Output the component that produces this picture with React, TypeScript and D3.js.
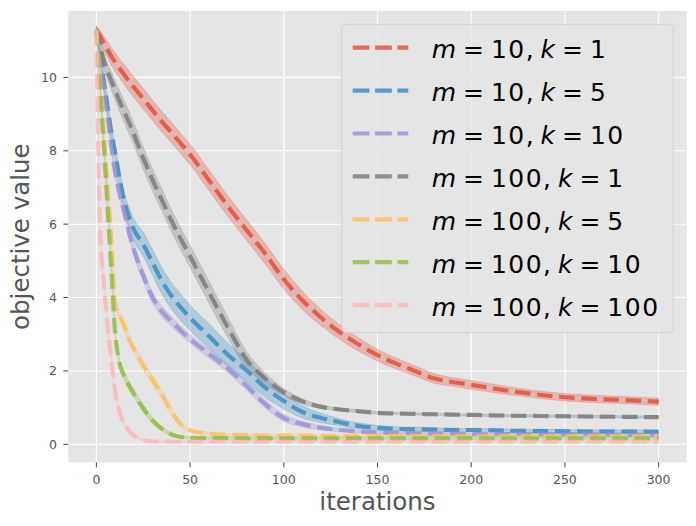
import React from "react";
import * as d3 from "d3";

const iterations = [0, 2, 4, 6, 8, 10, 12, 15, 18, 20, 25, 30, 35, 40, 45, 50, 60, 70, 80, 90, 100, 110, 120, 130, 140, 150, 160, 170, 180, 190, 200, 220, 240, 260, 280, 300];

const m10k1 = [11.3, 11.12, 10.93, 10.75, 10.57, 10.42, 10.27, 10.06, 9.86, 9.73, 9.42, 9.1, 8.79, 8.5, 8.2, 7.9, 7.2, 6.5, 5.85, 5.2, 4.5, 3.92, 3.45, 3.05, 2.72, 2.43, 2.2, 2.0, 1.8, 1.7, 1.62, 1.46, 1.33, 1.25, 1.21, 1.16];
const m10k1Std = [0.1, 0.15, 0.2, 0.22, 0.24, 0.25, 0.26, 0.27, 0.28, 0.28, 0.28, 0.28, 0.28, 0.28, 0.28, 0.28, 0.28, 0.28, 0.28, 0.28, 0.27, 0.25, 0.22, 0.2, 0.18, 0.16, 0.15, 0.14, 0.13, 0.12, 0.12, 0.11, 0.1, 0.1, 0.1, 0.1];

const m10k5 = [11.3, 10.6, 9.9, 9.2, 8.5, 7.95, 7.35, 6.6, 6.1, 5.85, 5.45, 4.95, 4.45, 4.05, 3.73, 3.45, 2.95, 2.45, 2.02, 1.55, 1.18, 0.88, 0.72, 0.6, 0.5, 0.45, 0.42, 0.41, 0.4, 0.39, 0.39, 0.37, 0.36, 0.35, 0.35, 0.34];
const m10k5Std = [0.1, 0.15, 0.2, 0.2, 0.2, 0.2, 0.22, 0.25, 0.28, 0.3, 0.33, 0.35, 0.36, 0.36, 0.36, 0.35, 0.34, 0.32, 0.3, 0.27, 0.22, 0.17, 0.13, 0.1, 0.08, 0.07, 0.06, 0.06, 0.05, 0.05, 0.05, 0.05, 0.05, 0.05, 0.05, 0.05];

const m10k10 = [11.3, 10.5, 9.7, 8.9, 8.1, 7.4, 6.9, 6.3, 5.65, 5.3, 4.6, 4.0, 3.62, 3.35, 3.1, 2.87, 2.47, 2.07, 1.6, 1.1, 0.72, 0.55, 0.45, 0.39, 0.35, 0.32, 0.31, 0.3, 0.29, 0.29, 0.28, 0.28, 0.27, 0.27, 0.26, 0.26];
const m10k10Std = [0.1, 0.12, 0.14, 0.15, 0.15, 0.15, 0.15, 0.16, 0.17, 0.17, 0.17, 0.16, 0.15, 0.14, 0.13, 0.12, 0.12, 0.12, 0.12, 0.11, 0.1, 0.08, 0.06, 0.05, 0.04, 0.04, 0.03, 0.03, 0.03, 0.03, 0.03, 0.03, 0.03, 0.03, 0.03, 0.03];

const m100k1 = [11.3, 10.85, 10.45, 10.15, 9.9, 9.65, 9.4, 9.05, 8.7, 8.45, 7.8, 7.2, 6.65, 6.1, 5.6, 5.12, 4.15, 3.2, 2.32, 1.8, 1.42, 1.17, 1.02, 0.95, 0.9, 0.86, 0.84, 0.83, 0.82, 0.81, 0.8, 0.78, 0.77, 0.76, 0.75, 0.74];
const m100k1Std = [0.1, 0.15, 0.2, 0.22, 0.25, 0.27, 0.28, 0.3, 0.3, 0.3, 0.3, 0.3, 0.3, 0.3, 0.3, 0.3, 0.3, 0.28, 0.22, 0.15, 0.1, 0.07, 0.05, 0.04, 0.04, 0.03, 0.03, 0.03, 0.03, 0.03, 0.03, 0.03, 0.03, 0.03, 0.03, 0.03];

const m100k5 = [11.3, 9.9, 8.4, 7.0, 5.6, 3.85, 3.55, 3.2, 2.8, 2.6, 2.15, 1.75, 1.35, 0.9, 0.55, 0.38, 0.29, 0.26, 0.25, 0.24, 0.24, 0.24, 0.23, 0.23, 0.23, 0.23, 0.23, 0.23, 0.23, 0.22, 0.22, 0.22, 0.22, 0.22, 0.22, 0.22];
const m100k5Std = [0.1, 0.15, 0.15, 0.15, 0.15, 0.15, 0.12, 0.12, 0.12, 0.12, 0.12, 0.12, 0.12, 0.1, 0.08, 0.05, 0.04, 0.03, 0.03, 0.03, 0.03, 0.03, 0.03, 0.03, 0.03, 0.03, 0.03, 0.03, 0.03, 0.03, 0.03, 0.03, 0.03, 0.03, 0.03, 0.03];

const m100k10 = [11.3, 9.7, 8.1, 6.4, 4.7, 3.05, 2.3, 1.85, 1.55, 1.38, 0.98, 0.65, 0.42, 0.27, 0.2, 0.18, 0.17, 0.17, 0.16, 0.16, 0.16, 0.16, 0.16, 0.16, 0.16, 0.16, 0.16, 0.16, 0.16, 0.16, 0.16, 0.16, 0.16, 0.16, 0.16, 0.16];
const m100k10Std = [0.1, 0.15, 0.15, 0.15, 0.15, 0.12, 0.12, 0.12, 0.12, 0.11, 0.1, 0.08, 0.06, 0.05, 0.04, 0.03, 0.03, 0.03, 0.03, 0.03, 0.03, 0.03, 0.03, 0.03, 0.03, 0.03, 0.03, 0.03, 0.03, 0.03, 0.03, 0.03, 0.03, 0.03, 0.03, 0.03];

const m100k100 = [11.3, 5.8, 4.4, 3.2, 2.3, 1.45, 0.95, 0.55, 0.33, 0.24, 0.12, 0.08, 0.07, 0.07, 0.07, 0.07, 0.07, 0.07, 0.07, 0.07, 0.07, 0.07, 0.07, 0.07, 0.07, 0.07, 0.07, 0.07, 0.07, 0.07, 0.07, 0.07, 0.07, 0.07, 0.07, 0.07];
const m100k100Std = [0.1, 0.1, 0.1, 0.1, 0.1, 0.1, 0.08, 0.06, 0.05, 0.04, 0.03, 0.03, 0.03, 0.03, 0.03, 0.03, 0.03, 0.03, 0.03, 0.03, 0.03, 0.03, 0.03, 0.03, 0.03, 0.03, 0.03, 0.03, 0.03, 0.03, 0.03, 0.03, 0.03, 0.03, 0.03, 0.03];

const seriesM = ["10", "10", "10", "100", "100", "100", "100"];
const seriesK = ["1", "5", "10", "1", "5", "10", "100"];
const seriesColors = ["#E24A33", "#348ABD", "#988ED5", "#777777", "#FBC15E", "#8EBA42", "#FFB5B8"];
const seriesValues = [m10k1, m10k5, m10k10, m100k1, m100k5, m100k10, m100k100];
const seriesStd = [m10k1Std, m10k5Std, m10k10Std, m100k1Std, m100k5Std, m100k10Std, m100k100Std];

const xTicks = [0, 50, 100, 150, 200, 250, 300];
const yTicks = [0, 2, 4, 6, 8, 10];

const W = 696;
const H = 526;
const plotL = 68.3, plotR = 686.7, plotT = 11, plotB = 462.3;

export default function App() {
  const x = d3.scaleLinear().domain([-15, 315]).range([plotL, plotR]);
  const y = d3.scaleLinear().domain([-0.49, 11.81]).range([plotB, plotT]);

  const line = d3
    .line<number>()
    .x((_, i) => x(iterations[i]))
    .y((d) => y(d))
    .curve(d3.curveMonotoneX);

  const font = "DejaVu Sans";
  const legendFont = 25;
  const legendX = 341.7, legendY = 24.3, legendW = 331.6, legendH = 308.4;
  const rowBase0 = 58.3, rowStep = 42.9;

  return (
    <svg
      width={W}
      height={H}
      viewBox={`0 0 ${W} ${H}`}
      style={{ position: "absolute", left: 0, top: 0, background: "#fff" }}
    >
      <rect x={0} y={0} width={W} height={H} fill="#ffffff" />
      <defs>
        <clipPath id="plotclip">
          <rect x={plotL} y={plotT} width={plotR - plotL} height={plotB - plotT} />
        </clipPath>
      </defs>
      <rect x={plotL} y={plotT} width={plotR - plotL} height={plotB - plotT} fill="#E5E5E5" />
      {xTicks.map((t) => (
        <line key={"gx" + t} x1={x(t)} x2={x(t)} y1={plotT} y2={plotB} stroke="#ffffff" strokeWidth={1.1} />
      ))}
      {yTicks.map((t) => (
        <line key={"gy" + t} x1={plotL} x2={plotR} y1={y(t)} y2={y(t)} stroke="#ffffff" strokeWidth={1.1} />
      ))}
      <g clipPath="url(#plotclip)">
        {seriesValues.map((vals, si) => {
          const std = seriesStd[si];
          const area = d3
            .area<number>()
            .x((_, i) => x(iterations[i]))
            .y0((d, i) => y(d - std[i]))
            .y1((d, i) => y(d + std[i]))
            .curve(d3.curveMonotoneX);
          return (
            <path
              key={"band" + si}
              d={area(vals) || ""}
              fill={seriesColors[si]}
              fillOpacity={0.3}
              stroke={seriesColors[si]}
              strokeOpacity={0.3}
              strokeWidth={0.7}
            />
          );
        })}
        {seriesValues.map((vals, si) => (
          <path
            key={"line" + si}
            d={line(vals) || ""}
            fill="none"
            stroke={seriesColors[si]}
            strokeOpacity={0.8}
            strokeWidth={4.2}
            strokeDasharray="15.5,6.7"
          />
        ))}
      </g>
      {xTicks.map((t) => (
        <g key={"xt" + t}>
          <line x1={x(t)} x2={x(t)} y1={plotB} y2={plotB + 4.9} stroke="#555555" strokeWidth={1.1} />
          <text x={x(t)} y={484} textAnchor="middle" fontFamily={font} fontSize={12.5} fill="#555555">
            {t}
          </text>
        </g>
      ))}
      {yTicks.map((t) => (
        <g key={"yt" + t}>
          <line x1={plotL - 4.9} x2={plotL} y1={y(t)} y2={y(t)} stroke="#555555" strokeWidth={1.1} />
          <text x={57} y={y(t) + 4.5} textAnchor="end" fontFamily={font} fontSize={12.5} fill="#555555">
            {t}
          </text>
        </g>
      ))}
      <text x={(plotL + plotR) / 2} y={510} textAnchor="middle" fontFamily={font} fontSize={24.5} fill="#555555">
        iterations
      </text>
      <text
        transform={`translate(28.5, ${(plotT + plotB) / 2}) rotate(-90)`}
        textAnchor="middle"
        fontFamily={font}
        fontSize={24.5}
        fill="#555555"
      >
        objective value
      </text>
      <rect
        x={legendX}
        y={legendY}
        width={legendW}
        height={legendH}
        rx={5}
        ry={5}
        fill="#E5E5E5"
        fillOpacity={0.8}
        stroke="#CCCCCC"
        strokeOpacity={0.8}
        strokeWidth={1}
      />
      {seriesColors.map((c, i) => {
        const base = rowBase0 + i * rowStep;
        const cy = base - 10.6;
        return (
          <g key={"leg" + i}>
            <line
              x1={352.7}
              x2={408.3}
              y1={cy}
              y2={cy}
              stroke={c}
              strokeOpacity={0.8}
              strokeWidth={4.2}
              strokeDasharray="16.7,5.7"
            />
            <text
              x={431.7}
              y={base}
              fontFamily={font}
              fontSize={legendFont}
              fill="#000000"
              wordSpacing={-1}
              style={{ whiteSpace: "pre" }}
            >
              <tspan fontStyle="italic">m</tspan>
              <tspan>{" = "}</tspan>
              <tspan letterSpacing={1.5}>{seriesM[i]}</tspan>
              <tspan>{", "}</tspan>
              <tspan fontStyle="italic">k</tspan>
              <tspan>{" = "}</tspan>
              <tspan letterSpacing={1.5}>{seriesK[i]}</tspan>
            </text>
          </g>
        );
      })}
    </svg>
  );
}
